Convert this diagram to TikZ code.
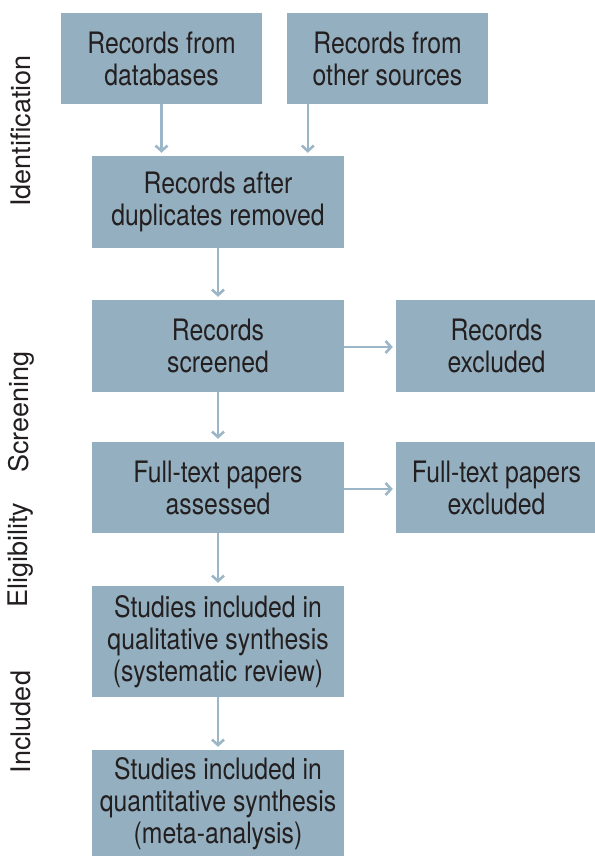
\documentclass[tikz,border=0pt]{standalone}
\usepackage{fontspec}
\setmainfont{TeX Gyre Heros}
\newfontfamily\boxfont{TeX Gyre Heros}[FakeStretch=0.84]
\usetikzlibrary{arrows.meta}
\definecolor{boxfill}{HTML}{94AFBF}
\definecolor{arrowcol}{HTML}{9AB6C7}
\definecolor{textcol}{HTML}{231F20}
\tikzset{
  stagebox/.style={rectangle, fill=boxfill, inner sep=0pt, align=center,
    text=textcol, font=\boxfont\fontsize{29.5bp}{32bp}\selectfont},
  flow/.style={draw=arrowcol, line width=2.2bp,
    -{Straight Barb[length=5.5bp,width=12bp,line width=2.6bp]}, shorten >=3bp},
  sidelabel/.style={rotate=90, inner sep=0pt, text=textcol,
    font=\fontsize{27bp}{30bp}\selectfont}
}
\begin{document}
\begin{tikzpicture}[x=1bp,y=-1bp]
\useasboundingbox (0,0) rectangle (595,856);
% boxes
\node[stagebox, minimum width=201bp, minimum height=91bp] (A) at (161.5,58.5) {Records from\\databases};
\node[stagebox, minimum width=201bp, minimum height=91bp] (B) at (387.5,58.5) {Records from\\other sources};
\node[stagebox, minimum width=252bp, minimum height=92bp] (C) at (218,202) {Records after\\duplicates removed};
\node[stagebox, minimum width=252bp, minimum height=92bp] (D) at (218,346) {Records\\screened};
\node[stagebox, minimum width=201bp, minimum height=92bp] (E) at (496.5,346) {Records\\excluded};
\node[stagebox, minimum width=252bp, minimum height=91bp] (F) at (218,487.5) {Full-text papers\\assessed};
\node[stagebox, minimum width=201bp, minimum height=91bp] (G) at (496.5,487.5) {Full-text papers\\excluded};
\node[stagebox, minimum width=252bp, minimum height=111bp] (H) at (218,641.5) {Studies included in\\qualitative synthesis\\(systematic review)};
\node[stagebox, minimum width=252bp, minimum height=108bp] (I) at (218,804) {Studies included in\\quantitative synthesis\\(meta-analysis)};
% side labels
\node[sidelabel] (L1) at (21,131) {Identification};
\node[sidelabel] (L2) at (21,412) {Screening};
\node[sidelabel] (L3) at (21,555) {Eligibility};
\node[sidelabel] (L4) at (21,722) {Included};
% connectors
\draw[flow] (A.south) -- (A.south |- C.north);
\draw[flow] (B.south west) ++(21,0) coordinate (bs) -- (bs |- C.north);
\draw[flow] (C.south) -- (D.north);
\draw[flow] (D.east |- 0,347) coordinate (ds) -- (E.west |- ds);
\draw[flow] (D.south) -- (F.north);
\draw[flow] (F.east |- 0,489) coordinate (fs) -- (G.west |- fs);
\draw[flow] (F.south) -- (H.north);
\draw[flow] (H.south) -- (I.north);
\end{tikzpicture}
\end{document}
